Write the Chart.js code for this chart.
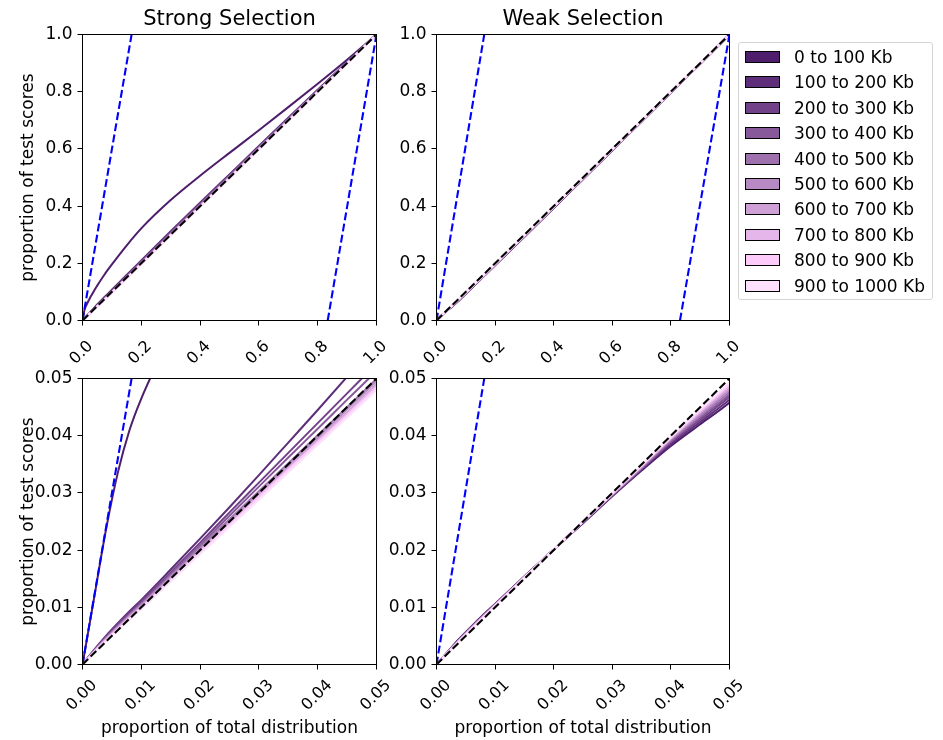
<!DOCTYPE html>
<html>
<head>
<meta charset="utf-8">
<script src="https://cdn.jsdelivr.net/npm/chart.js@4.4.1/dist/chart.umd.min.js"></script>
<style>
body { margin: 0; background: #fff; }
#wrap { position: relative; width: 943px; height: 740px; overflow: hidden; font-family: 'DejaVu Sans', sans-serif; }
#wrap canvas { position: absolute; }
#legend { position: absolute; left: 738px; top: 42px; width: 195px; height: 258px; border: 1px solid #d5d5d5; border-radius: 3px; box-sizing: border-box; }
.item { position: absolute; left: 6px; height: 24px; display: flex; align-items: center; font-size: 17px; color: #000; white-space: nowrap; }
.patch { width: 35px; height: 12px; box-sizing: border-box; border: 1px solid #000; margin-right: 14px; }
</style>
</head>
<body>
<div id="wrap">
  <canvas id="strongFull" width="403" height="372" style="left:0;top:0"></canvas>
  <canvas id="weakFull" width="420" height="372" style="left:350px;top:0"></canvas>
  <canvas id="strongZoom" width="403" height="382" style="left:0;top:358px"></canvas>
  <canvas id="weakZoom" width="420" height="382" style="left:350px;top:358px"></canvas>
  <div id="legend"></div>
</div>
<script>
// x positions shared by all curves (dense near 0 for the zoomed panels)
var xGrid = [0, 0.002, 0.004, 0.006, 0.008, 0.01, 0.015, 0.02, 0.025, 0.03, 0.035, 0.04, 0.045, 0.05,
             0.075, 0.1, 0.15, 0.2, 0.3, 0.4, 0.5, 0.6, 0.7, 0.8, 0.9, 1.0];

var binLabels = ['0 to 100 Kb', '100 to 200 Kb', '200 to 300 Kb', '300 to 400 Kb', '400 to 500 Kb',
                 '500 to 600 Kb', '600 to 700 Kb', '700 to 800 Kb', '800 to 900 Kb', '900 to 1000 Kb'];
var binColors = ['#4e1d6c', '#5e2e7a', '#724288', '#87589a', '#9e71ae', '#b78ac4', '#cea0d6', '#e4b6e9', '#fccbfa', '#fde0fb'];

// strong selection, one row per bin
var strongCurves = [
  [0, 0.0118, 0.0236, 0.0335, 0.041, 0.0465, 0.0575, 0.068, 0.078, 0.0875, 0.0965, 0.1052, 0.1137, 0.122, 0.161, 0.196, 0.262, 0.322, 0.421, 0.506, 0.586, 0.665, 0.746, 0.828, 0.912, 1],
  [0, 0.0026, 0.005, 0.0072, 0.0093, 0.0113, 0.0166, 0.022, 0.0275, 0.0331, 0.0388, 0.0445, 0.0503, 0.0562, 0.082, 0.108, 0.159, 0.21, 0.312, 0.412, 0.511, 0.61, 0.709, 0.807, 0.904, 1],
  [0, 0.0025, 0.0049, 0.007, 0.009, 0.011, 0.0161, 0.0213, 0.0266, 0.0318, 0.037, 0.0422, 0.0474, 0.0526, 0.078, 0.104, 0.155, 0.206, 0.308, 0.408, 0.508, 0.607, 0.706, 0.805, 0.903, 1],
  [0, 0.0024, 0.0047, 0.0068, 0.0088, 0.0107, 0.0158, 0.0209, 0.026, 0.0311, 0.0362, 0.0412, 0.0463, 0.0513, 0.077, 0.102, 0.153, 0.204, 0.305, 0.405, 0.505, 0.605, 0.704, 0.803, 0.902, 1],
  [0, 0.0024, 0.0046, 0.0066, 0.0086, 0.0105, 0.0155, 0.0205, 0.0254, 0.0303, 0.0352, 0.0401, 0.045, 0.0499, 0.075, 0.1, 0.151, 0.202, 0.303, 0.403, 0.503, 0.603, 0.703, 0.802, 0.901, 1],
  [0, 0.0023, 0.0045, 0.0065, 0.0085, 0.0104, 0.0153, 0.0202, 0.0251, 0.03, 0.0349, 0.0397, 0.0446, 0.0495, 0.074, 0.099, 0.149, 0.2, 0.301, 0.401, 0.501, 0.601, 0.701, 0.801, 0.901, 1],
  [0, 0.0023, 0.0044, 0.0064, 0.0083, 0.0102, 0.0151, 0.02, 0.0248, 0.0296, 0.0345, 0.0393, 0.0441, 0.049, 0.074, 0.099, 0.149, 0.199, 0.3, 0.4, 0.5, 0.6, 0.7, 0.8, 0.9, 1],
  [0, 0.0022, 0.0043, 0.0063, 0.0082, 0.01, 0.0149, 0.0198, 0.0246, 0.0294, 0.0342, 0.039, 0.0438, 0.0487, 0.073, 0.098, 0.148, 0.198, 0.299, 0.399, 0.499, 0.599, 0.699, 0.799, 0.9, 1],
  [0, 0.0022, 0.0042, 0.0061, 0.008, 0.0099, 0.0147, 0.0196, 0.0244, 0.0292, 0.034, 0.0388, 0.0436, 0.0484, 0.073, 0.097, 0.147, 0.197, 0.298, 0.398, 0.498, 0.598, 0.698, 0.799, 0.899, 1],
  [0, 0.0021, 0.0041, 0.006, 0.0079, 0.0097, 0.0145, 0.0193, 0.0241, 0.0288, 0.0336, 0.0384, 0.0432, 0.048, 0.072, 0.097, 0.147, 0.197, 0.297, 0.397, 0.497, 0.597, 0.697, 0.798, 0.899, 1]
];

// weak selection, one row per bin
var weakCurves = [
  [0, 0.0023, 0.0046, 0.0067, 0.0087, 0.0106, 0.0154, 0.0201, 0.0247, 0.0294, 0.0339, 0.0382, 0.042, 0.0458, 0.0685, 0.093, 0.143, 0.193, 0.293, 0.393, 0.494, 0.595, 0.696, 0.797, 0.898, 1],
  [0, 0.0023, 0.0046, 0.0066, 0.0086, 0.0105, 0.0154, 0.0201, 0.0248, 0.0295, 0.0341, 0.0385, 0.0424, 0.0463, 0.069, 0.094, 0.144, 0.194, 0.294, 0.394, 0.495, 0.595, 0.696, 0.797, 0.898, 1],
  [0, 0.0023, 0.0045, 0.0066, 0.0086, 0.0105, 0.0153, 0.0201, 0.0248, 0.0296, 0.0342, 0.0388, 0.0428, 0.0468, 0.07, 0.095, 0.144, 0.194, 0.294, 0.395, 0.495, 0.596, 0.697, 0.797, 0.898, 1],
  [0, 0.0022, 0.0045, 0.0065, 0.0085, 0.0105, 0.0153, 0.0201, 0.0249, 0.0296, 0.0343, 0.039, 0.0431, 0.0472, 0.071, 0.095, 0.145, 0.195, 0.295, 0.395, 0.496, 0.596, 0.697, 0.798, 0.898, 1],
  [0, 0.0022, 0.0044, 0.0065, 0.0085, 0.0104, 0.0153, 0.0201, 0.0249, 0.0297, 0.0344, 0.0392, 0.0434, 0.0476, 0.071, 0.096, 0.145, 0.195, 0.295, 0.396, 0.496, 0.597, 0.697, 0.798, 0.899, 1],
  [0, 0.0022, 0.0044, 0.0064, 0.0084, 0.0104, 0.0153, 0.0201, 0.0249, 0.0297, 0.0345, 0.0394, 0.0437, 0.048, 0.072, 0.096, 0.146, 0.196, 0.296, 0.396, 0.497, 0.597, 0.698, 0.798, 0.899, 1],
  [0, 0.0022, 0.0043, 0.0064, 0.0084, 0.0103, 0.0152, 0.0201, 0.025, 0.0298, 0.0346, 0.0395, 0.044, 0.0484, 0.072, 0.097, 0.146, 0.196, 0.296, 0.397, 0.497, 0.597, 0.698, 0.798, 0.899, 1],
  [0, 0.0021, 0.0043, 0.0063, 0.0083, 0.0103, 0.0152, 0.0201, 0.025, 0.0298, 0.0347, 0.0396, 0.0442, 0.0487, 0.073, 0.097, 0.147, 0.197, 0.297, 0.397, 0.498, 0.598, 0.698, 0.799, 0.899, 1],
  [0, 0.0021, 0.0042, 0.0063, 0.0083, 0.0103, 0.0152, 0.0201, 0.025, 0.0299, 0.0348, 0.0397, 0.0444, 0.049, 0.073, 0.098, 0.147, 0.197, 0.297, 0.398, 0.498, 0.598, 0.699, 0.799, 0.9, 1],
  [0, 0.0021, 0.0042, 0.0062, 0.0082, 0.0102, 0.0152, 0.0201, 0.025, 0.0299, 0.0348, 0.0398, 0.0446, 0.0493, 0.074, 0.098, 0.148, 0.198, 0.298, 0.398, 0.498, 0.599, 0.699, 0.799, 0.9, 1]
];

// reference lines
var diagX = [0, 1], diagY = [0, 1];
var strongUpperX = [0, 0.167], strongLowerX = [0.834, 1];
var weakUpperX = [0, 0.163], weakLowerX = [0.831, 1];
var boundY = [0, 1];

var fullTicks = [0, 0.2, 0.4, 0.6, 0.8, 1.0];
var zoomTicks = [0, 0.01, 0.02, 0.03, 0.04, 0.05];

Chart.defaults.font.family = "'DejaVu Sans', sans-serif";
Chart.defaults.font.size = 17;
Chart.defaults.color = '#000';

var frame = {
	id: 'frame',
	afterDatasetsDraw: function(chart){
		var a = chart.chartArea, ctx = chart.ctx;
		ctx.save();
		ctx.strokeStyle = '#000';
		ctx.lineWidth = 1;
		ctx.strokeRect(a.left, a.top, a.right - a.left, a.bottom - a.top);
		ctx.restore();
	}
};

function pts(xs, ys){
	return xs.map(function(x, i){ return {x: x, y: ys[i]}; });
}

function makePanel(id, curves, upperX, lowerX, o){
	var datasets = curves.map(function(ys, k){
		return {
			label: binLabels[k],
			data: pts(xGrid, ys),
			borderColor: binColors[k],
			backgroundColor: binColors[k],
			borderWidth: 2,
			pointRadius: 0,
			cubicInterpolationMode: 'monotone',
			order: 30 - k
		};
	});
	datasets.push({ label: 'diag', data: pts(diagX, diagY), borderColor: '#000', borderWidth: 2.1, borderDash: [7.9, 3.4], pointRadius: 0, order: 2 });
	datasets.push({ label: 'upper', data: pts(upperX, boundY), borderColor: '#0000ff', borderWidth: 2.1, borderDash: [7.9, 3.4], pointRadius: 0, order: 1 });
	datasets.push({ label: 'lower', data: pts(lowerX, boundY), borderColor: '#0000ff', borderWidth: 2.1, borderDash: [7.9, 3.4], pointRadius: 0, order: 1 });

	var tickVals = o.ticks;
	var maxV = tickVals[tickVals.length - 1];
	var step = tickVals[1] - tickVals[0];

	return new Chart(document.getElementById(id), {
		type: 'line',
		data: { datasets: datasets },
		plugins: [frame],
		options: {
			responsive: false,
			animation: false,
			events: [],
			layout: { padding: o.padding },
			plugins: {
				legend: { display: false },
				tooltip: { enabled: false },
				title: {
					display: !!o.title, text: o.title, fullSize: false, color: '#000',
					font: { size: 21, weight: 'normal' }, padding: { top: 7.3, bottom: 2 }
				}
			},
			scales: {
				x: {
					type: 'linear', min: 0, max: maxV,
					ticks: {
						stepSize: step, autoSkip: false, minRotation: 45, maxRotation: 45,
						labelOffset: o.labelOffset, padding: o.tickPad, color: '#000', font: { size: 16 },
						callback: function(v){ return v.toFixed(o.digits); }
					},
					grid: { drawOnChartArea: false, drawTicks: true, tickLength: 5, color: '#000', tickColor: '#000' },
					border: { display: false },
					title: { display: !!o.xTitle, text: o.xTitle, color: '#000', padding: { top: 0, bottom: 1 } },
					afterFit: function(s){ s.height = o.xHeight; }
				},
				y: {
					type: 'linear', min: 0, max: maxV,
					ticks: {
						stepSize: step, padding: 5, color: '#000',
						callback: function(v){ return v.toFixed(o.digits); }
					},
					grid: { drawOnChartArea: false, drawTicks: true, tickLength: 5, color: '#000', tickColor: '#000' },
					border: { display: false },
					title: { display: !!o.yTitle, text: o.yTitle, color: '#000', padding: { top: 18.8, bottom: 0 } },
					afterFit: function(s){ s.width = o.yWidth; }
				}
			}
		}
	});
}

var yLabel = 'proportion of test scores';
var xLabel = 'proportion of total distribution';

makePanel('strongFull', strongCurves, strongUpperX, strongLowerX, {
	ticks: fullTicks, digits: 1, title: 'Strong Selection', yTitle: yLabel, xTitle: '',
	labelOffset: 8, tickPad: 11.5, xHeight: 51.5, yWidth: 82.5, padding: { left: 0, right: 26.5, top: 0, bottom: 0 }
});
makePanel('weakFull', weakCurves, weakUpperX, weakLowerX, {
	ticks: fullTicks, digits: 1, title: 'Weak Selection', yTitle: '', xTitle: '',
	labelOffset: 8, tickPad: 11.5, xHeight: 51.5, yWidth: 86.5, padding: { left: 0, right: 40.5, top: 0, bottom: 0 }
});
makePanel('strongZoom', strongCurves, strongUpperX, strongLowerX, {
	ticks: zoomTicks, digits: 2, title: '', yTitle: yLabel, xTitle: xLabel,
	labelOffset: 12, tickPad: 6.5, xHeight: 75.5, yWidth: 82.5, padding: { left: 0, right: 26.5, top: 20.5, bottom: 0 }
});
makePanel('weakZoom', weakCurves, weakUpperX, weakLowerX, {
	ticks: zoomTicks, digits: 2, title: '', yTitle: '', xTitle: xLabel,
	labelOffset: 12, tickPad: 6.5, xHeight: 75.5, yWidth: 86.5, padding: { left: 0, right: 40.5, top: 20.5, bottom: 0 }
});

// legend (html) built from the bin arrays
var legend = document.getElementById('legend');
binLabels.forEach(function(label, i){
	var item = document.createElement('div');
	item.className = 'item';
	item.style.top = (2 + 25.4 * i) + 'px';
	var patch = document.createElement('span');
	patch.className = 'patch';
	patch.style.background = binColors[i];
	var txt = document.createElement('span');
	txt.textContent = label;
	item.appendChild(patch);
	item.appendChild(txt);
	legend.appendChild(item);
});
</script>
</body>
</html>
